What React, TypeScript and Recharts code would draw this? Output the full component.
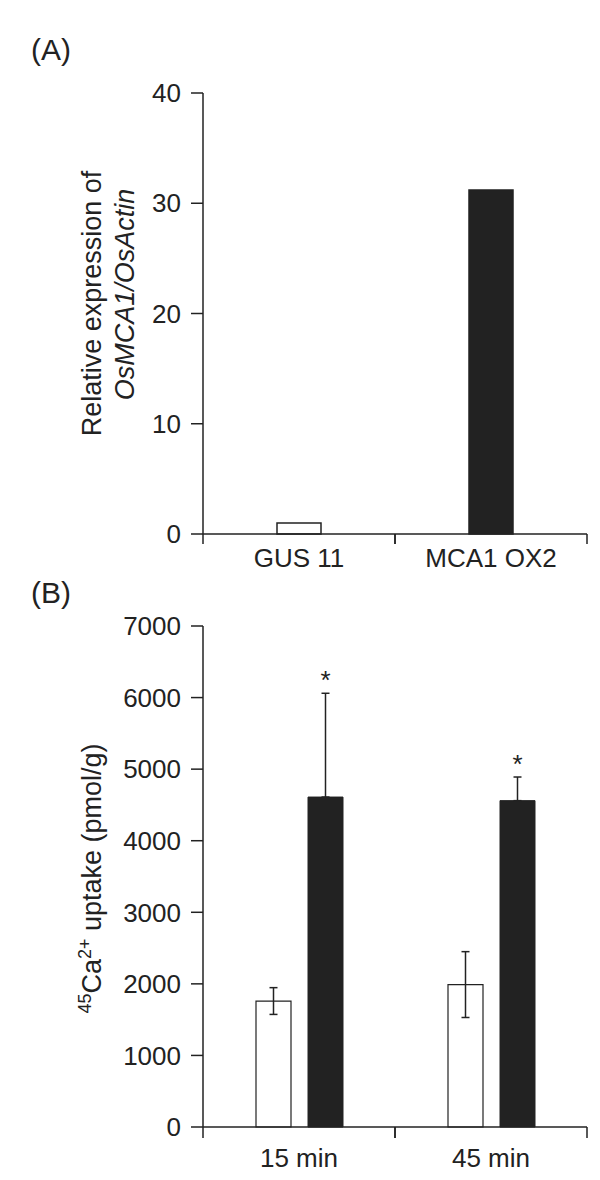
import React from 'react';
import { BarChart, Bar, XAxis, YAxis, Cell, ErrorBar, LabelList } from 'recharts';

const FONT = '"Liberation Sans", Arial, sans-serif';
const INK = '#222';

// panel A
const LINES = ['GUS 11', 'MCA1 OX2'];
const EXPRESSION = [1.0, 31.2];
const LINE_FILLS = ['#fff', INK];
const A_TICKS = [0, 10, 20, 30, 40];

// panel B
const TIMES = ['15 min', '45 min'];
const GUS_UPTAKE = [1760, 1990];
const GUS_ERR = [187, 460];
const MCA_UPTAKE = [4610, 4560];
const MCA_ERR = [1450, 330];
const SIGNIF = ['*', '*'];
const B_TICKS = [0, 1000, 2000, 3000, 4000, 5000, 6000, 7000];

const dataA = LINES.map((name, i) => ({ name, value: EXPRESSION[i] }));
const dataB = TIMES.map((name, i) => ({
  name,
  gus: GUS_UPTAKE[i],
  gusErr: GUS_ERR[i],
  mca: MCA_UPTAKE[i],
  mcaErr: [0, MCA_ERR[i]],
  sig: SIGNIF[i],
}));

const PLOT_LEFT = 203;
const RIGHT = 13;
const BAND = (600 - PLOT_LEFT - RIGHT) / 2;

// category label in the middle, tick marks on the band edges
function EdgeTick(props: any) {
  const { x, y, payload, tickLen, textGap } = props;
  return (
    <g>
      <line x1={x - BAND / 2} y1={y} x2={x - BAND / 2} y2={y + tickLen} stroke={INK} strokeWidth={1.5} />
      <line x1={x + BAND / 2} y1={y} x2={x + BAND / 2} y2={y + tickLen} stroke={INK} strokeWidth={1.5} />
      <text x={x} y={y + textGap} textAnchor="middle" fontSize={26} fontFamily={FONT} fill={INK}>
        {payload.value}
      </text>
    </g>
  );
}

function LabelA(props: any) {
  const vb = props.viewBox;
  const cy = vb.y + vb.height / 2;
  return (
    <g fontFamily={FONT} fontSize={27} fill={INK}>
      <text transform={`translate(101, ${cy - 10}) rotate(-90)`} textAnchor="middle">
        Relative expression of
      </text>
      <text transform={`translate(134, ${cy - 19}) rotate(-90)`} textAnchor="middle" fontStyle="italic">
        OsMCA1/OsActin
      </text>
    </g>
  );
}

function LabelB(props: any) {
  const vb = props.viewBox;
  const cy = vb.y + vb.height / 2;
  return (
    <text
      transform={`translate(101, ${cy + 2}) rotate(-90)`}
      textAnchor="middle"
      fontFamily={FONT}
      fontSize={27}
      fill={INK}
    >
      <tspan fontSize={18} dy={-10}>45</tspan>
      <tspan dy={10}>Ca</tspan>
      <tspan fontSize={18} dy={-10}>2+</tspan>
      <tspan dy={10}> uptake (pmol/g)</tspan>
    </text>
  );
}

function Star(props: any) {
  const vb = props.viewBox ?? props;
  const { x, y, width, height } = vb;
  const i = props.index;
  const pxPerUnit = height / MCA_UPTAKE[i];
  const top = y - MCA_ERR[i] * pxPerUnit;
  return (
    <text x={x + width / 2} y={top - 4} textAnchor="middle" fontSize={26} fontFamily={FONT} fill={INK}>
      {SIGNIF[i]}
    </text>
  );
}

const yTick = { fontSize: 26, fontFamily: FONT, fill: INK };

export default function App() {
  return (
    <div style={{ position: 'absolute', left: 0, top: 0, width: 600, height: 1180, background: '#fff', fontFamily: FONT, color: INK }}>
      <div style={{ position: 'absolute', left: 31, top: 35, fontSize: 30, lineHeight: 1 }}>(A)</div>
      <div style={{ position: 'absolute', left: 31, top: 578, fontSize: 30, lineHeight: 1 }}>(B)</div>

      <div style={{ position: 'absolute', left: 0, top: 0 }}>
        <BarChart width={600} height={580} data={dataA} margin={{ top: 93, right: RIGHT, left: 0, bottom: 0 }}>
          <XAxis
            dataKey="name"
            height={46}
            axisLine={{ stroke: INK, strokeWidth: 1.5 }}
            tickLine={false}
            tickSize={0}
            tickMargin={0}
            tick={<EdgeTick tickLen={10} textGap={33} />}
          />
          <YAxis
            width={PLOT_LEFT}
            domain={[0, 40]}
            ticks={A_TICKS}
            interval={0}
            tickSize={12}
            tickMargin={10}
            axisLine={{ stroke: INK, strokeWidth: 1.5 }}
            tickLine={{ stroke: INK, strokeWidth: 1.5 }}
            tick={yTick}
            label={<LabelA />}
          />
          <Bar dataKey="value" barSize={44} stroke={INK} strokeWidth={1.5} isAnimationActive={false}>
            {dataA.map((d, i) => (
              <Cell key={d.name} fill={LINE_FILLS[i]} />
            ))}
          </Bar>
        </BarChart>
      </div>

      <div style={{ position: 'absolute', left: 0, top: 580 }}>
        <BarChart width={600} height={600} data={dataB} barGap={17} margin={{ top: 46, right: RIGHT, left: 0, bottom: 0 }}>
          <XAxis
            dataKey="name"
            height={53}
            axisLine={{ stroke: INK, strokeWidth: 1.5 }}
            tickLine={false}
            tickSize={0}
            tickMargin={0}
            tick={<EdgeTick tickLen={11} textGap={40} />}
          />
          <YAxis
            width={PLOT_LEFT}
            domain={[0, 7000]}
            ticks={B_TICKS}
            interval={0}
            tickSize={12}
            tickMargin={10}
            axisLine={{ stroke: INK, strokeWidth: 1.5 }}
            tickLine={{ stroke: INK, strokeWidth: 1.5 }}
            tick={yTick}
            label={<LabelB />}
          />
          <Bar dataKey="gus" barSize={35} fill="#fff" stroke={INK} strokeWidth={1.2} isAnimationActive={false}>
            <ErrorBar dataKey="gusErr" width={4} stroke={INK} strokeWidth={1.5} direction="y" />
          </Bar>
          <Bar dataKey="mca" barSize={35} fill={INK} stroke={INK} strokeWidth={1} isAnimationActive={false}>
            <ErrorBar dataKey="mcaErr" width={4} stroke={INK} strokeWidth={1.5} direction="y" />
            <LabelList dataKey="sig" content={<Star />} />
          </Bar>
        </BarChart>
      </div>
    </div>
  );
}
